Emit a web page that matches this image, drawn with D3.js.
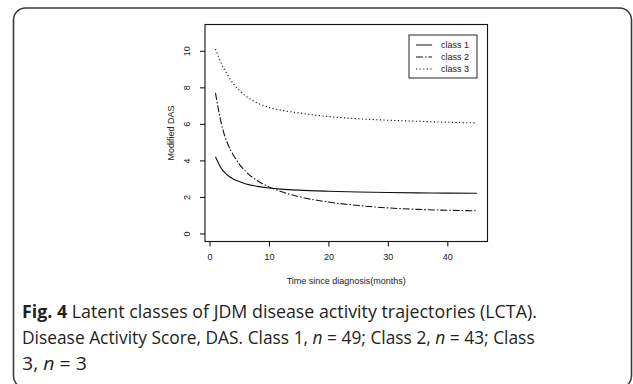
<!DOCTYPE html>
<html>
<head>
<meta charset="utf-8">
<script src="https://cdn.jsdelivr.net/npm/d3@7"></script>
<style>
  body { margin: 0; background: #fff; }
  svg { display: block; }
</style>
</head>
<body>
<div id="chart"></div>
<script>
// values
var months = [1, 2, 3, 4, 5, 6, 8, 10, 12, 15, 20, 25, 30, 35, 40, 45];
var class1 = [4.2, 3.55, 3.2, 2.98, 2.84, 2.72, 2.58, 2.49, 2.43, 2.37, 2.31, 2.27, 2.24, 2.22, 2.21, 2.2];
var class2 = [7.7, 6.0, 4.95, 4.3, 3.8, 3.42, 2.9, 2.55, 2.3, 2.02, 1.72, 1.53, 1.4, 1.32, 1.27, 1.24];
var class3 = [10.1, 9.3, 8.7, 8.2, 7.85, 7.55, 7.15, 6.9, 6.75, 6.6, 6.4, 6.28, 6.2, 6.14, 6.09, 6.05];
var classNames = ["class 1", "class 2", "class 3"];
var xTicks = [0, 10, 20, 30, 40];
var yTicks = [0, 2, 4, 6, 8, 10];

var svgWidth = 633;
var svgHeight = 384;

// plot region (R style box)
var box = { left: 205, right: 487.5, top: 24.5, bottom: 241.5 };

var svg = d3.select("#chart")
  .append("svg")
  .attr("width", svgWidth)
  .attr("height", svgHeight);

// outer rounded frame
svg.append("rect")
  .attr("x", 13.5)
  .attr("y", 8)
  .attr("width", 618)
  .attr("height", 380)
  .attr("rx", 12)
  .attr("fill", "none")
  .attr("stroke", "#3a3a3a")
  .attr("stroke-width", 1.6);

var xScale = d3.scaleLinear()
  .domain([-0.76, 46.76])
  .range([box.left, box.right]);

var yScale = d3.scaleLinear()
  .domain([-0.44, 11.44])
  .range([box.bottom, box.top]);

var font = "'Liberation Sans', Arial, sans-serif";

// x axis
var xAxis = svg.append("g")
  .attr("transform", `translate(0, ${box.bottom})`)
  .call(d3.axisBottom(xScale).tickValues(xTicks).tickSize(5).tickPadding(7));
xAxis.select(".domain").remove();
xAxis.selectAll("text")
  .attr("font-family", font)
  .attr("font-size", 9)
  .attr("fill", "#222");

// y axis, labels rotated like R's default
var yAxis = svg.append("g")
  .attr("transform", `translate(${box.left}, 0)`)
  .call(d3.axisLeft(yScale).tickValues(yTicks).tickSize(5));
yAxis.select(".domain").remove();
yAxis.selectAll("text")
  .attr("font-family", font)
  .attr("font-size", 9)
  .attr("fill", "#222")
  .attr("x", 0)
  .attr("dy", 0)
  .attr("text-anchor", "middle")
  .attr("transform", "translate(-15, 0) rotate(-90)");

// box
svg.append("rect")
  .attr("x", box.left)
  .attr("y", box.top)
  .attr("width", box.right - box.left)
  .attr("height", box.bottom - box.top)
  .attr("fill", "none")
  .attr("stroke", "#111")
  .attr("stroke-width", 1.1);

// axis titles
svg.append("text")
  .attr("x", (box.left + box.right) / 2)
  .attr("y", 284)
  .attr("text-anchor", "middle")
  .attr("font-family", font)
  .attr("font-size", 9)
  .attr("fill", "#222")
  .text("Time since diagnosis(months)");

svg.append("text")
  .attr("transform", `translate(174, ${(box.top + box.bottom) / 2}) rotate(-90)`)
  .attr("text-anchor", "middle")
  .attr("font-family", font)
  .attr("font-size", 9)
  .attr("fill", "#222")
  .text("Modified DAS");

// curves
var series = [class1, class2, class3];
var dashes = [null, "7,2,1.5,2", "1.2,2.4"];

var line = d3.line()
  .x(d => xScale(d[0]))
  .y(d => yScale(d[1]))
  .curve(d3.curveMonotoneX);

series.forEach(function(vals, i) {
  svg.append("path")
    .datum(months.map((m, j) => [m, vals[j]]))
    .attr("d", line)
    .attr("fill", "none")
    .attr("stroke", "#111")
    .attr("stroke-width", 1.1)
    .attr("stroke-dasharray", dashes[i]);
});

// legend
var legend = svg.append("g");
legend.append("rect")
  .attr("x", 409)
  .attr("y", 35)
  .attr("width", 68)
  .attr("height", 43)
  .attr("fill", "#fff")
  .attr("stroke", "#111")
  .attr("stroke-width", 0.9);

classNames.forEach(function(name, i) {
  var ly = 45 + i * 12;
  legend.append("line")
    .attr("x1", 416)
    .attr("x2", 432)
    .attr("y1", ly)
    .attr("y2", ly)
    .attr("stroke", "#111")
    .attr("stroke-width", 1)
    .attr("stroke-dasharray", dashes[i]);
  legend.append("text")
    .attr("x", 441)
    .attr("y", ly)
    .attr("dy", "0.35em")
    .attr("font-family", font)
    .attr("font-size", 9)
    .attr("fill", "#222")
    .text(name);
});

// caption
var capFont = "'Open Sans', 'Noto Sans', sans-serif";
var lines = [
  [["Fig. 4", "bold", "normal"], [" Latent classes of JDM disease activity trajectories (LCTA).", "normal", "normal"]],
  [["Disease Activity Score, DAS. Class 1, ", "normal", "normal"], ["n", "normal", "italic"], [" = 49; Class 2, ", "normal", "normal"], ["n", "normal", "italic"], [" = 43; Class", "normal", "normal"]],
  [["3, ", "normal", "normal"], ["n", "normal", "italic"], [" = 3", "normal", "normal"]]
];
var lineWidths = [515, 513, 65];

lines.forEach(function(parts, i) {
  var g = svg.append("g");
  var t = g.append("text")
    .attr("x", 0)
    .attr("y", 0)
    .attr("font-family", capFont)
    .attr("font-size", 18)
    .attr("fill", "#231f20");
  parts.forEach(function(p) {
    t.append("tspan")
      .attr("font-weight", p[1])
      .attr("font-style", p[2])
      .text(p[0]);
  });
  // squeeze each line to the figure's condensed face
  var k = lineWidths[i] / t.node().getComputedTextLength();
  g.attr("transform", `translate(22, ${318 + i * 26}) scale(${k}, 1)`);
});
</script>
</body>
</html>
